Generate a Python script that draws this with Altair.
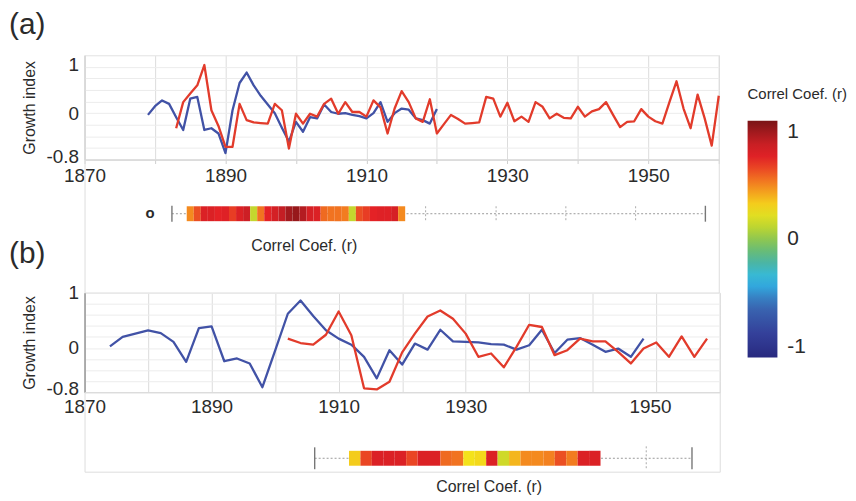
import altair as alt
import pandas as pd

FONT = "Liberation Sans"
RED = "#e23b2b"
BLUE = "#4152a6"
TXT = "#2b2b2b"

# ---------------- panel (a) data ----------------
a_red_years = list(range(1883, 1961))
a_red_vals = [-0.26, 0.19, 0.34, 0.48, 0.83, 0.05, -0.22, -0.58, -0.58, 0.16,
              -0.12, -0.16, -0.17, -0.18, 0.16, 0.05, -0.61, -0.01, -0.18, -0.01,
              -0.06, 0.16, 0.25, -0.01, 0.19, 0.02, 0.02, -0.06, 0.22, 0.10,
              -0.35, 0.08, 0.38, 0.19, -0.09, -0.15, 0.24, -0.35, -0.19, -0.03,
              -0.10, -0.18, -0.17, -0.16, 0.28, 0.25, -0.06, 0.18, -0.14, -0.06,
              -0.15, 0.19, 0.11, -0.09, -0.01, -0.08, -0.09, 0.11, -0.06, 0.03,
              0.07, 0.19, -0.03, -0.24, -0.15, -0.14, 0.07, -0.06, -0.14, -0.18,
              0.19, 0.55, 0.08, -0.26, 0.32, -0.09, -0.56, 0.30]
a_blue_years = list(range(1879, 1921))
a_blue_vals = [-0.03, 0.12, 0.22, 0.16, -0.07, -0.29, 0.25, 0.28, -0.29, -0.26,
               -0.35, -0.69, 0.05, 0.52, 0.70, 0.48, 0.30, 0.15, 0.00, -0.25,
               -0.49, -0.15, -0.32, -0.07, -0.09, 0.15, 0.02, -0.01, 0.00, -0.03,
               -0.05, -0.09, 0.00, 0.19, -0.15, 0.00, 0.08, 0.06, -0.09, -0.12,
               -0.18, 0.07]

# ---------------- panel (b) data ----------------
b_blue_years = list(range(1874, 1959, 2))
b_blue_vals = [0.03, 0.20, 0.26, 0.32, 0.27, 0.11, -0.25, 0.36, 0.39, -0.24,
               -0.19, -0.28, -0.71, -0.05, 0.62, 0.86, 0.58, 0.32, 0.17, 0.06,
               -0.16, -0.55, -0.04, -0.30, 0.08, -0.03, 0.33, 0.12, 0.11, 0.10,
               0.07, 0.06, -0.03, 0.05, 0.33, -0.09, 0.15, 0.18, 0.06, -0.07,
               -0.01, -0.16, 0.17]
b_red_years = list(range(1902, 1969, 2))
b_red_vals = [0.17, 0.09, 0.06, 0.24, 0.66, 0.23, -0.73, -0.75, -0.61, -0.08,
              0.26, 0.57, 0.68, 0.53, 0.26, -0.16, -0.10, -0.35, 0.02, 0.42,
              0.38, -0.13, -0.04, 0.17, 0.12, 0.12, -0.07, -0.28, -0.01, 0.10,
              -0.16, 0.21, -0.16, 0.17]

# ---------------- correlation strips ----------------
strip_a_years = list(range(1885, 1916))
strip_a_r = [0.45, 0.58, 0.72, 0.72, 0.68, 0.70, 0.62, 0.72, 0.78, 0.12,
             0.50, 0.68, 0.75, 0.82, 0.90, 0.93, 0.86, 0.74, 0.72, 0.52,
             0.50, 0.50, 0.48, 0.12, 0.58, 0.62, 0.68, 0.70, 0.70, 0.74, 0.45]
strip_a_ends = [1882.4, 1958.1]
strip_a_marks = [1918.4, 1928.4, 1938.3, 1948.2]

strip_b_cells = list(range(22))
strip_b_r = [0.30, 0.60, 0.72, 0.72, 0.72, 0.60, 0.72, 0.72, 0.52, 0.50, 0.25,
             0.27, 0.72, 0.15, 0.35, 0.45, 0.45, 0.47, 0.58, 0.48, 0.72, 0.72]
strip_b_ends = [-3, 30]
strip_b_marks = [26]

# colour bar
cbar_stops = [-1.0, -0.8, -0.55, -0.35, -0.2, -0.05, 0.08, 0.25, 0.45, 0.68, 0.82, 1.0]
cbar_colors = ["#28297f", "#34409a", "#3a6bb4", "#2fbbea", "#4bb5a4", "#77bf61",
               "#b5d334", "#f4e21b", "#f48a1f", "#e42226", "#c41e24", "#7a1416"]
cbar_ticks = [-1, 0, 1]
cbar_text = ["-1", "0", "1"]

# axes
a_grid_years = list(range(1870, 1961, 10))
a_label_years = [1870, 1890, 1910, 1930, 1950]
b_grid_years = list(range(1870, 1971, 10))
b_label_pos = [1870, 1890, 1910, 1930, 1959]
b_label_text = ["1870", "1890", "1910", "1930", "1950"]
y_grid = [-0.8, -0.6, -0.4, -0.2, 0, 0.2, 0.4, 0.6, 0.8, 1]
y_label_vals = [1, 0, -0.8]
y_label_text = ["1", "0", "-0.8"]


def label_map(vals, texts):
    expr = "''"
    for v, t in reversed(list(zip(vals, texts))):
        expr = f"datum.value == {v} ? '{t}' : ({expr})"
    return expr


cscale = alt.Scale(domain=cbar_stops, range=cbar_colors, interpolate="rgb")
legend = alt.Legend(title="Correl Coef. (r)", orient="none", legendX=667, legendY=32,
                    direction="vertical", gradientLength=238, gradientThickness=30,
                    values=cbar_ticks, labelExpr=label_map(cbar_ticks, cbar_text),
                    labelFontSize=21, labelFont=FONT, labelColor=TXT,
                    labelOffset=10, titleFontSize=15, titleFont=FONT,
                    titleFontWeight="normal", titleColor=TXT, titlePadding=19,
                    gradientStrokeWidth=0)


def y_axis(cond_top, low_shift):
    kw = dict(values=y_grid, labelExpr=label_map(y_label_vals, y_label_text),
              title="Growth index", grid=True, gridColor="#ececec", ticks=False,
              labelFontSize=19, labelFont=FONT, labelColor=TXT, labelPadding=6,
              labelOverlap=False, titleFontSize=16, titleFont=FONT,
              titleFontWeight="normal", titleColor=TXT, titlePadding=9,
              labelOffset={"condition": {"test": "datum.value == -0.8", "value": low_shift},
                           "value": 0})
    if cond_top:
        kw["labelBaseline"] = {"condition": {"test": "datum.value == 1", "value": "top"},
                               "value": "middle"}
        kw["domainColor"] = "#d0d0d0"
    else:
        kw["domainColor"] = "#999999"
        kw["domainWidth"] = 1.5
    return alt.Axis(**kw)


# ---------------- panel (a) ----------------
W_A, H_A = 638, 105
xa = alt.X("year:Q", scale=alt.Scale(domain=[1870, 1960], nice=False, zero=False),
           axis=alt.Axis(values=a_grid_years,
                         labelExpr=label_map(a_label_years, [str(y) for y in a_label_years]),
                         title=None, grid=True, gridColor="#dcdcdc", domainColor="#cfcfcf",
                         ticks=True, tickColor="#cfcfcf", tickSize=4, labelFontSize=19,
                         labelFont=FONT, labelColor=TXT, labelPadding=3, labelFlush=False,
                         labelOverlap=False))
ya = alt.Y("v:Q", scale=alt.Scale(domain=[-0.8, 1], nice=False, zero=False),
           axis=y_axis(True, -3))

a_blue = alt.Chart(pd.DataFrame({"year": a_blue_years, "v": a_blue_vals})).mark_line(
    color=BLUE, strokeWidth=2.3, strokeJoin="round").encode(x=xa, y=ya)
a_red = alt.Chart(pd.DataFrame({"year": a_red_years, "v": a_red_vals})).mark_line(
    color=RED, strokeWidth=2.3, strokeJoin="round").encode(x=xa, y=ya)
a_tag = alt.Chart(pd.DataFrame({"t": ["(a)"]})).mark_text(
    align="left", baseline="top", fontSize=30, font=FONT, color=TXT).encode(
    x=alt.value(-76), y=alt.value(-45), text="t:N")
panel_a = alt.layer(a_blue, a_red, a_tag).properties(width=W_A, height=H_A)

# ---------------- strip (a) ----------------
# the strip is one row spanning track values 0..1
H_SA = 134
xs_a = alt.Scale(domain=[1870, 1960], nice=False, zero=False)
ys_a_scale = alt.Scale(domain=[-4.8, 4.133], nice=False, zero=False)

sa_line = alt.Chart(pd.DataFrame({"s": [strip_a_ends[0]], "e": [strip_a_ends[1]], "m": [0.5]})
                    ).mark_rule(color="#9a9a9a", strokeDash=[2, 2], strokeWidth=1).encode(
    x=alt.X("s:Q", scale=xs_a, axis=None), x2="e:Q",
    y=alt.Y("m:Q", scale=ys_a_scale, axis=None))
sa_cells = alt.Chart(pd.DataFrame({"year": strip_a_years, "r": strip_a_r, "lo": 0, "hi": 1})
                     ).transform_calculate(x0="datum.year - 0.5", x1="datum.year + 0.5"
                     ).mark_rect().encode(
    x=alt.X("x0:Q", scale=xs_a, axis=None), x2="x1:Q",
    y=alt.Y("lo:Q", scale=ys_a_scale, axis=None), y2="hi:Q",
    color=alt.Color("r:Q", scale=cscale, legend=legend))
sa_ends = alt.Chart(pd.DataFrame({"t": strip_a_ends, "m": 0.5})).mark_point(
    shape="M0,-1L0,1", size=256, filled=False, strokeWidth=1.4, color="#777777", opacity=1
).encode(x=alt.X("t:Q", scale=xs_a, axis=None), y=alt.Y("m:Q", scale=ys_a_scale, axis=None))
sa_marks = alt.Chart(pd.DataFrame({"t": strip_a_marks, "m": 0.5})).mark_point(
    shape="M0,-1L0,1", size=225, filled=False, strokeWidth=1, strokeDash=[2, 2],
    color="#aaaaaa", opacity=1
).encode(x=alt.X("t:Q", scale=xs_a, axis=None), y=alt.Y("m:Q", scale=ys_a_scale, axis=None))
sa_o = alt.Chart(pd.DataFrame({"t": ["o"]})).mark_text(
    fontSize=15, font=FONT, color=TXT, fontWeight="bold").encode(
    x=alt.value(66), y=alt.value(54), text="t:N")
sa_lab = alt.Chart(pd.DataFrame({"t": ["Correl Coef. (r)"]})).mark_text(
    fontSize=16, font=FONT, color=TXT).encode(x=alt.value(221), y=alt.value(87), text="t:N")
b_tag = alt.Chart(pd.DataFrame({"t": ["(b)"]})).mark_text(
    align="left", baseline="top", fontSize=30, font=FONT, color=TXT).encode(
    x=alt.value(-76), y=alt.value(80), text="t:N")
strip_a = alt.layer(sa_line, sa_cells, sa_ends, sa_marks, sa_o, sa_lab, b_tag).properties(
    width=W_A, height=H_SA)

# ---------------- panel (b) ----------------
W_B, H_B = 639, 100
xb = alt.X("year:Q", scale=alt.Scale(domain=[1870, 1970], nice=False, zero=False),
           axis=alt.Axis(values=b_grid_years + [b_label_pos[-1]],
                         labelExpr=label_map(b_label_pos, b_label_text),
                         title=None, grid=True,
                         gridColor={"condition": {"test": f"datum.value == {b_label_pos[-1]}",
                                                  "value": "transparent"},
                                    "value": "#dcdcdc"},
                         domainColor="#d8d8d8", ticks=False, labelFontSize=19,
                         labelFont=FONT, labelColor=TXT, labelPadding=5, labelFlush=False,
                         labelOverlap=False))
yb = alt.Y("v:Q", scale=alt.Scale(domain=[-0.8, 1], nice=False, zero=False),
           axis=y_axis(False, -4))

b_blue = alt.Chart(pd.DataFrame({"year": b_blue_years, "v": b_blue_vals})).mark_line(
    color=BLUE, strokeWidth=2.3, strokeJoin="round").encode(x=xb, y=yb)
b_red = alt.Chart(pd.DataFrame({"year": b_red_years, "v": b_red_vals})).mark_line(
    color=RED, strokeWidth=2.3, strokeJoin="round").encode(x=xb, y=yb)
panel_b = alt.layer(b_blue, b_red).properties(width=W_B, height=H_B)

# ---------------- strip (b) ----------------
H_SB = 80
xs_b = alt.Scale(domain=[-23.13, 32.43], nice=False, zero=False)
ys_b_scale = alt.Scale(domain=[-0.4, 4.933], nice=False, zero=False)

sb_line = alt.Chart(pd.DataFrame({"s": [strip_b_ends[0]], "e": [strip_b_ends[1]], "m": [0.5]})
                    ).mark_rule(color="#9a9a9a", strokeDash=[2, 2], strokeWidth=1).encode(
    x=alt.X("s:Q", scale=xs_b, axis=None), x2="e:Q",
    y=alt.Y("m:Q", scale=ys_b_scale, axis=None))
sb_cells = alt.Chart(pd.DataFrame({"i": strip_b_cells, "r": strip_b_r, "lo": 0, "hi": 1})
                     ).transform_calculate(x0="datum.i", x1="datum.i + 1").mark_rect().encode(
    x=alt.X("x0:Q", scale=xs_b, axis=None), x2="x1:Q",
    y=alt.Y("lo:Q", scale=ys_b_scale, axis=None), y2="hi:Q",
    color=alt.Color("r:Q", scale=cscale, legend=legend))
sb_ends = alt.Chart(pd.DataFrame({"t": strip_b_ends, "m": 0.5})).mark_point(
    shape="M0,-1L0,1", size=484, filled=False, strokeWidth=1.4, color="#777777", opacity=1
).encode(x=alt.X("t:Q", scale=xs_b, axis=None), y=alt.Y("m:Q", scale=ys_b_scale, axis=None))
sb_marks = alt.Chart(pd.DataFrame({"t": strip_b_marks, "m": 0.5})).mark_point(
    shape="M0,-1L0,1", size=576, filled=False, strokeWidth=1, strokeDash=[2, 2],
    color="#aaaaaa", opacity=1
).encode(x=alt.X("t:Q", scale=xs_b, axis=None), y=alt.Y("m:Q", scale=ys_b_scale, axis=None))
sb_lab = alt.Chart(pd.DataFrame({"t": ["Correl Coef. (r)"]})).mark_text(
    fontSize=16, font=FONT, color=TXT).encode(x=alt.value(407), y=alt.value(95), text="t:N")
strip_b = alt.layer(sb_line, sb_cells, sb_ends, sb_marks, sb_lab).properties(
    width=W_B, height=H_SB)

chart = alt.vconcat(panel_a, strip_a, panel_b, strip_b, spacing=0, bounds="flush").properties(
    padding=0, background="white").configure_view(strokeWidth=0).configure(font=FONT)

chart.save("out.html", embed_options={"renderer": "svg", "actions": False})
